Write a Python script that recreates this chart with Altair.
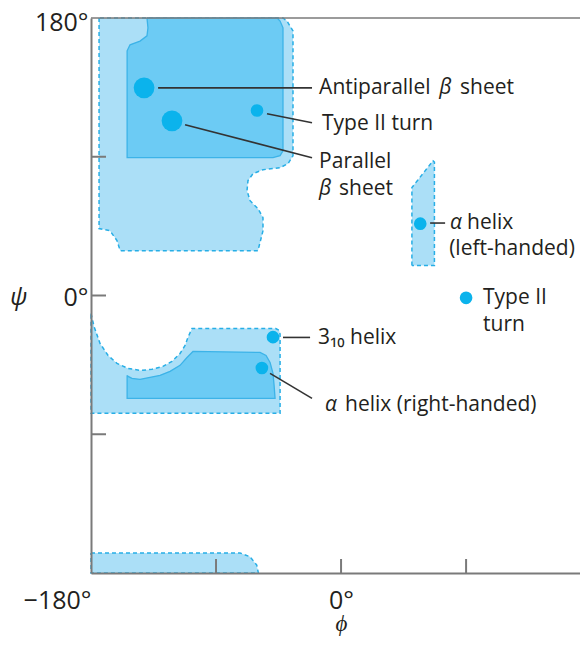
import altair as alt
import pandas as pd

# ---------------- data (degrees: phi, psi) ----------------
# Light (allowed) regions, dashed outline
light_A_phi = [-174.2, -174.2, -166.3, -161.3, -159.0, -59.8, -56.2, -56.2, -59.8, -65.5, -67.7, -67.0, -63.4, -56.2, -43.9, -38.2, -34.6, -34.6, -38.9, -41.8, -174.2]
light_A_psi = [180.0, 43.4, 42.0, 35.6, 29.1, 29.1, 42.0, 50.5, 56.3, 61.5, 68.0, 74.5, 79.0, 81.6, 82.9, 85.5, 90.7, 171.6, 178.0, 180.0, 180.0]

light_C_phi = [51.0, 51.0, 66.2, 67.2, 67.2, 51.0]
light_C_psi = [19.4, 70.0, 87.4, 86.5, 19.4, 19.4]

light_D_phi = [-180.0, -177.8, -173.5, -167.7, -161.3, -153.3, -144.7, -136.1, -128.2, -121.7, -115.9, -112.3, -110.2, -107.3, -47.0, -44.6, -43.9, -43.9, -180.0, -180.0]
light_D_psi = [-11.7, -20.1, -31.1, -38.9, -44.0, -47.3, -48.6, -47.9, -46.0, -42.7, -37.6, -32.4, -27.2, -21.4, -21.4, -22.6, -25.0, -76.4, -76.4, -11.7]

light_F_phi = [-180.0, -72.7, -65.5, -60.7, -59.5, -180.0, -180.0]
light_F_psi = [-167.0, -167.0, -169.5, -174.9, -180.0, -180.0, -167.0]

# Dark (fully allowed) regions, solid outline
dark_B_phi = [-139.7, -139.0, -139.7, -144.7, -151.9, -154.0, -154.0, -49.0, -43.9, -41.8, -41.8, -43.9, -46.0, -139.7]
dark_B_psi = [180.0, 173.6, 168.4, 165.0, 162.6, 158.7, 89.4, 89.4, 90.7, 93.9, 173.6, 178.0, 180.0, 180.0]

dark_E_phi = [-154.0, -154.0, -47.5, -48.2, -49.0, -51.1, -54.0, -58.3, -106.6, -110.9, -115.9, -123.1, -130.3, -137.5, -144.7, -150.5, -153.3, -154.0]
dark_E_psi = [-51.8, -66.7, -66.7, -58.3, -50.5, -43.4, -38.9, -36.9, -36.3, -40.2, -45.3, -49.2, -51.8, -53.1, -54.4, -53.8, -52.5, -51.8]

# Conformations (dots)
dot_names = ["Antiparallel", "Parallel", "Type II turn a", "alpha L", "Type II turn b", "3-10 helix", "alpha R"]
dot_phi = [-141.8, -121.7, -60.5, 57.0, 90.0, -49.0, -57.0]
dot_psi = [134.7, 113.3, 120.0, 46.6, -1.5, -27.0, -47.0]
dot_size = [430, 430, 160, 160, 160, 160, 160]

# Leader lines
lead_phi = [-131.7, -53.3, -112.3, 64.1, -41.8, -51.1]
lead_psi = [134.7, 117.9, 110.8, 47.0, -27.2, -50.5]
lead_phi2 = [-20.9, -20.9, -20.9, 74.9, -22.3, -20.9]
lead_psi2 = [134.7, 112.0, 89.4, 47.0, -27.2, -66.7]

# Labels (upright pieces)
label_text = ["Antiparallel", "sheet", "Type II turn", "Parallel", "sheet",
              "helix", "(left-handed)", "Type II", "turn",
              "3₁₀ helix", "helix (right-handed)"]
label_phi = [-15.8, 85.7, -13.7, -15.8, -1.4, 90.7, 77.8, 102.2, 102.2, -16.6, 2.9]
label_psi = [134.7, 134.7, 111.4, 86.9, 69.2, 47.3, 30.4, -1.9, -19.4, -27.8, -71.2]

# Labels (italic Greek pieces)
greek_text = ["β", "β", "α", "α"]
greek_phi = [70.6, -15.8, 78.5, -11.5]
greek_psi = [134.7, 69.2, 47.3, -71.2]

x_ticks = [-90, 0, 90]
y_ticks = [90, 0, -90]
x_labels = [-180, 0, 180]
y_labels = [0, 180]

# ---------------- styling ----------------
LIGHT = "#abdff7"
DARK = "#6ccbf4"
DASH = "#27aee6"
DARK_EDGE = "#3cb3e8"
DOT = "#0bb3ec"
AXIS = "#7a7a7a"
TEXT = "#231f20"
FONT = "Open Sans"
FS = 21

W, H = 489, 555
xs = alt.Scale(domain=[-180, 172], nice=False, zero=False)
ys = alt.Scale(domain=[-180, 180], nice=False, zero=False)


def poly_df(name, phis, psis):
    return pd.DataFrame({"region": name, "i": range(len(phis)), "phi": phis, "psi": psis})


light_df = pd.concat([poly_df("A", light_A_phi, light_A_psi),
                      poly_df("C", light_C_phi, light_C_psi),
                      poly_df("D", light_D_phi, light_D_psi),
                      poly_df("F", light_F_phi, light_F_psi)])
dark_df = pd.concat([poly_df("B", dark_B_phi, dark_B_psi),
                     poly_df("E", dark_E_phi, dark_E_psi)])

xaxis = alt.Axis(values=x_labels, ticks=False, grid=False, domainColor=AXIS, domainWidth=2,
                 labelFlush=False,
                 labelExpr="(datum.value < 0 ? '\u2212' + abs(datum.value) : datum.value) + '°'",
                 labelAlign={"condition": {"test": "datum.value == -180", "value": "right"}, "value": "center"},
                 labelFont=FONT, labelFontSize=25, labelColor=TEXT, labelPadding=15,
                 title="ϕ", titleFont=FONT, titleFontSize=23, titleFontStyle="italic",
                 titleFontWeight="normal", titleColor=TEXT, titleX=250, titleY=50,
                 titleBaseline="middle", titleAlign="center", zindex=2)
yaxis = alt.Axis(values=y_labels, ticks=False, grid=False, domainColor=AXIS, domainWidth=2,
                 labelFlush=False, labelExpr="datum.value + '°'",
                 labelOffset={"condition": {"test": "datum.value == 180", "value": 4}, "value": 2},
                 labelFont=FONT, labelFontSize=25, labelColor=TEXT, labelPadding=3,
                 title="ψ", titleFont=FONT, titleFontSize=24, titleFontStyle="italic",
                 titleFontWeight="normal", titleColor=TEXT, titleAngle=0, titleX=-73, titleY=279,
                 titleBaseline="middle", titleAlign="center", zindex=2)

light = alt.Chart(light_df).mark_line(fill=LIGHT, stroke=DASH, strokeDash=[4, 3], strokeWidth=1.5).encode(
    x=alt.X("phi:Q", scale=xs, axis=xaxis),
    y=alt.Y("psi:Q", scale=ys, axis=yaxis),
    order="i:Q", detail="region:N")

dark = alt.Chart(dark_df).mark_line(fill=DARK, stroke=DARK_EDGE, strokeWidth=1.3).encode(
    x=alt.X("phi:Q", scale=xs), y=alt.Y("psi:Q", scale=ys), order="i:Q", detail="region:N")

lead_df = pd.DataFrame({"phi": lead_phi, "psi": lead_psi, "phi2": lead_phi2, "psi2": lead_psi2})
leads = alt.Chart(lead_df).mark_rule(color="#333333", strokeWidth=1.6).encode(
    x=alt.X("phi:Q", scale=xs), y=alt.Y("psi:Q", scale=ys), x2="phi2:Q", y2="psi2:Q")

dots_df = pd.DataFrame({"name": dot_names, "phi": dot_phi, "psi": dot_psi, "size": dot_size})
dots = alt.Chart(dots_df).mark_circle(color=DOT, opacity=1).encode(
    x=alt.X("phi:Q", scale=xs), y=alt.Y("psi:Q", scale=ys),
    size=alt.Size("size:Q", scale=None, legend=None))

labels_df = pd.DataFrame({"t": label_text, "phi": label_phi, "psi": label_psi})
labels = alt.Chart(labels_df).mark_text(align="left", baseline="middle", font=FONT, fontSize=FS, color=TEXT).encode(
    x=alt.X("phi:Q", scale=xs), y=alt.Y("psi:Q", scale=ys), text="t:N")

greek_df = pd.DataFrame({"t": greek_text, "phi": greek_phi, "psi": greek_psi})
greek = alt.Chart(greek_df).mark_text(align="left", baseline="middle", font=FONT, fontSize=FS,
                                      fontStyle="italic", color=TEXT).encode(
    x=alt.X("phi:Q", scale=xs), y=alt.Y("psi:Q", scale=ys), text="t:N")

top_line = alt.Chart(pd.DataFrame({"v": [180]})).mark_rule(color=AXIS, strokeWidth=1.5).encode(
    y=alt.Y("v:Q", scale=ys))

xt = alt.Chart(pd.DataFrame({"v": x_ticks})).mark_rule(color=AXIS, strokeWidth=2).encode(
    x=alt.X("v:Q", scale=xs), y=alt.value(H), y2=alt.value(H - 14))
yt = alt.Chart(pd.DataFrame({"v": y_ticks})).mark_rule(color=AXIS, strokeWidth=2).encode(
    y=alt.Y("v:Q", scale=ys), x=alt.value(0), x2=alt.value(15))

chart = alt.layer(light, dark, leads, dots, top_line, xt, yt, labels, greek).properties(
    width=W, height=H,
    autosize=alt.AutoSizeParams(type="none"),
    padding={"left": 83, "top": 10, "right": 0, "bottom": 70},
).configure_view(stroke=None)

chart.save("out.html", embed_options={"renderer": "svg", "actions": False})
